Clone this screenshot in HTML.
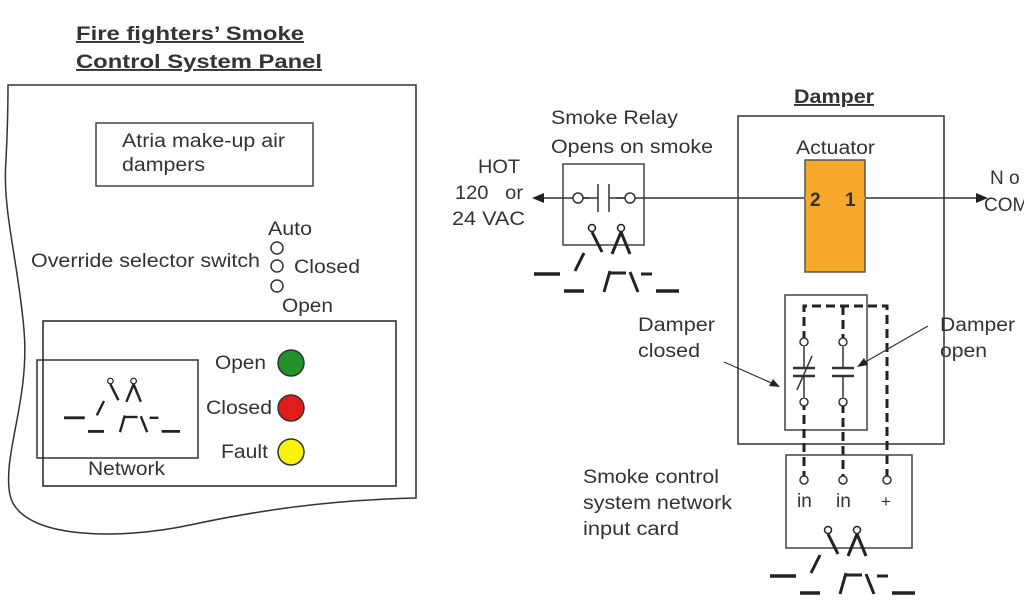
<!DOCTYPE html>
<html><head><meta charset="utf-8"><style>
body{margin:0;background:#fff;}
svg{display:block;}
text{font-family:"Liberation Sans",sans-serif;fill:#333;}
</style></head><body>
<svg width="1024" height="600" viewBox="0 0 1024 600" xmlns="http://www.w3.org/2000/svg">
<defs>
<g id="sw" stroke="#222" fill="none">
  <circle cx="828" cy="530" r="3.5" stroke-width="1.5"/>
  <circle cx="857" cy="530" r="3.5" stroke-width="1.5"/>
  <line x1="828" y1="534" x2="838" y2="554" stroke-width="3"/>
  <line x1="857" y1="534" x2="848" y2="556" stroke-width="3"/>
  <line x1="857" y1="534" x2="866" y2="556" stroke-width="3"/>
  <line x1="820" y1="555" x2="811" y2="573" stroke-width="3"/>
  <line x1="770" y1="576" x2="796" y2="576" stroke-width="3.5"/>
  <line x1="800" y1="593" x2="820" y2="593" stroke-width="3.5"/>
  <line x1="846" y1="573" x2="840" y2="594" stroke-width="3"/>
  <line x1="845" y1="575" x2="862" y2="575" stroke-width="3"/>
  <line x1="866" y1="574" x2="874" y2="594" stroke-width="3"/>
  <line x1="877" y1="576" x2="888" y2="576" stroke-width="3"/>
  <line x1="892" y1="593" x2="915" y2="593" stroke-width="3.5"/>
</g>
</defs>

<!-- LEFT PANEL -->
<text x="76" y="40" font-size="19" font-weight="bold" textLength="228" lengthAdjust="spacingAndGlyphs" text-decoration="underline">Fire fighters’ Smoke</text>
<text x="76" y="68" font-size="19" font-weight="bold" textLength="246" lengthAdjust="spacingAndGlyphs" text-decoration="underline">Control System Panel</text>
<path d="M8,85 L416,85 L416,498 C330,500 260,510 190,525 C120,540 20,540 10,495 C2,455 30,400 24,330 C18,260 2,210 6,160 C8,120 8,100 8,85 Z" fill="none" stroke="#333" stroke-width="1.5"/>
<rect x="96" y="123" width="217" height="63" fill="none" stroke="#444" stroke-width="1.5"/>
<text x="122" y="147" font-size="19" textLength="163" lengthAdjust="spacingAndGlyphs">Atria make-up air</text>
<text x="122" y="171" font-size="19" textLength="83" lengthAdjust="spacingAndGlyphs">dampers</text>
<text x="268" y="235" font-size="19" textLength="44" lengthAdjust="spacingAndGlyphs">Auto</text>
<circle cx="277" cy="248" r="6" fill="none" stroke="#333" stroke-width="1.5"/>
<circle cx="277" cy="266" r="6" fill="none" stroke="#333" stroke-width="1.5"/>
<circle cx="277" cy="286" r="6" fill="none" stroke="#333" stroke-width="1.5"/>
<text x="31" y="267" font-size="19" textLength="229" lengthAdjust="spacingAndGlyphs">Override selector switch</text>
<text x="294" y="273" font-size="19" textLength="66" lengthAdjust="spacingAndGlyphs">Closed</text>
<text x="282" y="312" font-size="19" textLength="51" lengthAdjust="spacingAndGlyphs">Open</text>
<rect x="43" y="321" width="353" height="165" fill="none" stroke="#222" stroke-width="1.5"/>
<rect x="37" y="360" width="161" height="98" fill="none" stroke="#333" stroke-width="1.5"/>
<text x="88" y="475" font-size="19" textLength="77" lengthAdjust="spacingAndGlyphs">Network</text>
<g transform="translate(-552,-43) scale(0.8)"><use href="#sw"/></g>
<text x="215" y="369" font-size="19" textLength="51" lengthAdjust="spacingAndGlyphs">Open</text>
<text x="206" y="414" font-size="19" textLength="66" lengthAdjust="spacingAndGlyphs">Closed</text>
<text x="221" y="458" font-size="19" textLength="47" lengthAdjust="spacingAndGlyphs">Fault</text>
<circle cx="291" cy="363" r="13" fill="#22922a" stroke="#333" stroke-width="1.5"/>
<circle cx="291" cy="408" r="13" fill="#e21b1b" stroke="#333" stroke-width="1.5"/>
<circle cx="291" cy="452" r="13" fill="#f6f20a" stroke="#333" stroke-width="1.5"/>

<!-- RIGHT SIDE -->
<text x="551" y="124" font-size="19" textLength="127" lengthAdjust="spacingAndGlyphs">Smoke Relay</text>
<text x="551" y="153" font-size="19" textLength="162" lengthAdjust="spacingAndGlyphs">Opens on smoke</text>
<text x="478" y="173" font-size="19" textLength="42" lengthAdjust="spacingAndGlyphs">HOT</text>
<text x="455" y="199" font-size="19" textLength="68" lengthAdjust="spacingAndGlyphs">120&#160;&#160;&#160;or</text>
<text x="452" y="225" font-size="19" textLength="73" lengthAdjust="spacingAndGlyphs">24 VAC</text>
<rect x="563" y="164" width="81" height="81" fill="none" stroke="#444" stroke-width="1.5"/>
<line x1="540" y1="198" x2="980" y2="198" stroke="#333" stroke-width="1.5"/>
<polygon points="532,198 544,193 544,203" fill="#222"/>
<polygon points="988,198 976,193 976,203" fill="#222"/>
<circle cx="578" cy="198" r="5" fill="#fff" stroke="#333" stroke-width="1.5"/>
<circle cx="630" cy="198" r="5" fill="#fff" stroke="#333" stroke-width="1.5"/>
<rect x="590" y="186" width="26" height="24" fill="#fff"/>
<line x1="598" y1="184" x2="598" y2="212" stroke="#333" stroke-width="1.5"/>
<line x1="609" y1="184" x2="609" y2="212" stroke="#333" stroke-width="1.5"/>
<line x1="583" y1="198" x2="598" y2="198" stroke="#333" stroke-width="1.5"/>
<line x1="609" y1="198" x2="625" y2="198" stroke="#333" stroke-width="1.5"/>
<g transform="translate(-236,-302)"><use href="#sw"/></g>

<text x="794" y="103" font-size="19" font-weight="bold" textLength="80" lengthAdjust="spacingAndGlyphs" text-decoration="underline">Damper</text>
<rect x="738" y="116" width="206" height="328" fill="none" stroke="#333" stroke-width="1.5"/>
<text x="796" y="154" font-size="19" textLength="79" lengthAdjust="spacingAndGlyphs">Actuator</text>
<rect x="805" y="160" width="60" height="112" fill="#f5a82a" stroke="#555" stroke-width="1.5"/>
<line x1="805" y1="198" x2="865" y2="198" stroke="#f5a82a" stroke-width="2"/>
<text x="810" y="206" font-size="19" font-weight="bold" fill="#8a3a00">2</text>
<text x="845" y="206" font-size="19" font-weight="bold" fill="#8a3a00">1</text>
<text x="990" y="184" font-size="19">N o</text>
<text x="984" y="211" font-size="19">COM</text>

<rect x="785" y="295" width="82" height="135" fill="none" stroke="#444" stroke-width="1.5"/>
<path d="M804,480 L804,306 L887,306 L887,476 M843,306 L843,476" fill="none" stroke="#222" stroke-width="3" stroke-dasharray="9,5"/>
<g stroke="#333" stroke-width="1.5">
<circle cx="804" cy="342" r="4" fill="#fff"/><circle cx="843" cy="342" r="4" fill="#fff"/>
<circle cx="804" cy="402" r="4" fill="#fff"/><circle cx="843" cy="402" r="4" fill="#fff"/>
<rect x="794" y="346" width="60" height="52" fill="#fff" stroke="none"/>
<line x1="804" y1="346" x2="804" y2="368"/><line x1="843" y1="346" x2="843" y2="368"/>
<line x1="804" y1="376" x2="804" y2="398"/><line x1="843" y1="376" x2="843" y2="398"/>
<line x1="793" y1="368" x2="815" y2="368" stroke-width="2.5"/><line x1="832" y1="368" x2="854" y2="368" stroke-width="2.5"/>
<line x1="793" y1="376" x2="815" y2="376" stroke-width="2.5"/><line x1="832" y1="376" x2="854" y2="376" stroke-width="2.5"/>
<line x1="797" y1="390" x2="812" y2="356"/>
</g>
<text x="638" y="331" font-size="19" textLength="77" lengthAdjust="spacingAndGlyphs">Damper</text>
<text x="638" y="357" font-size="19" textLength="62" lengthAdjust="spacingAndGlyphs">closed</text>
<text x="940" y="331" font-size="19" textLength="75" lengthAdjust="spacingAndGlyphs">Damper</text>
<text x="940" y="357" font-size="19" textLength="47" lengthAdjust="spacingAndGlyphs">open</text>
<line x1="724" y1="362" x2="776" y2="385" stroke="#333" stroke-width="1.2"/>
<polygon points="780,387 769,386 773,379" fill="#222"/>
<line x1="928" y1="326" x2="860" y2="365" stroke="#333" stroke-width="1.2"/>
<polygon points="857,367 864,358 868,365" fill="#222"/>

<rect x="786" y="455" width="126" height="93" fill="none" stroke="#444" stroke-width="1.5"/>
<circle cx="804" cy="480" r="4" fill="#fff" stroke="#333" stroke-width="1.5"/>
<circle cx="843" cy="480" r="4" fill="#fff" stroke="#333" stroke-width="1.5"/>
<circle cx="887" cy="480" r="4" fill="#fff" stroke="#333" stroke-width="1.5"/>
<text x="797" y="507" font-size="19">in</text>
<text x="836" y="507" font-size="19">in</text>
<text x="881" y="507" font-size="17">+</text>
<use href="#sw"/>
<text x="583" y="483" font-size="19" textLength="136" lengthAdjust="spacingAndGlyphs">Smoke control</text>
<text x="583" y="509" font-size="19" textLength="149" lengthAdjust="spacingAndGlyphs">system network</text>
<text x="583" y="535" font-size="19" textLength="96" lengthAdjust="spacingAndGlyphs">input card</text>
</svg>
</body></html>
